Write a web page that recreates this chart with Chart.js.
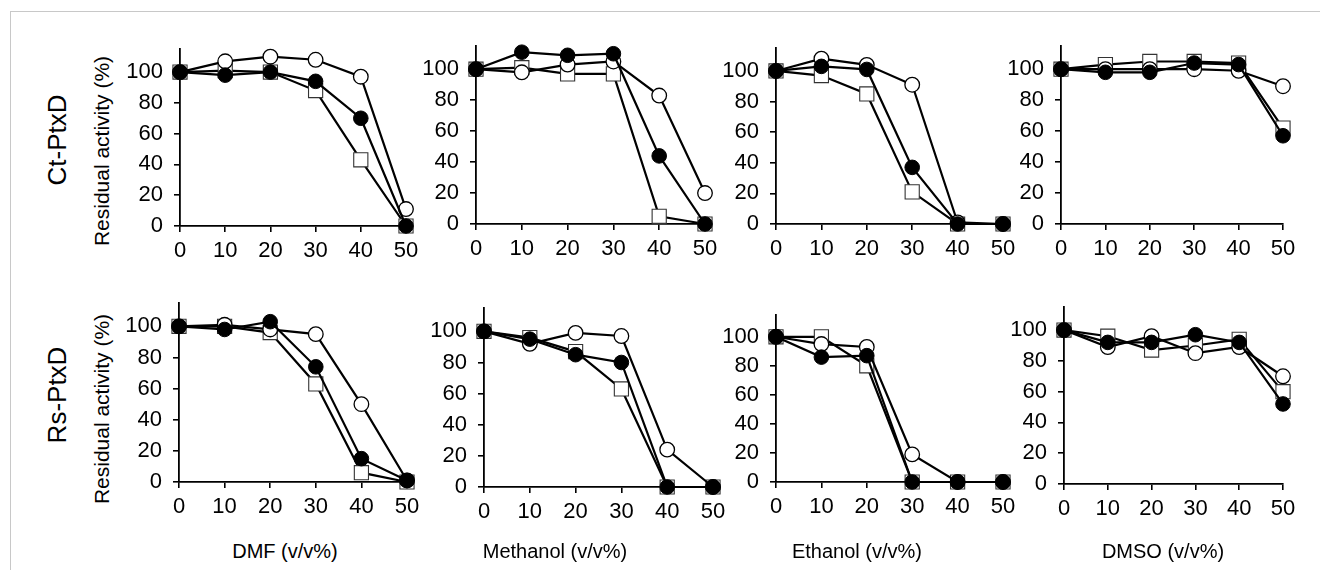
<!DOCTYPE html>
<html><head><meta charset="utf-8">
<script src="https://cdn.jsdelivr.net/npm/chart.js@4.4.0/dist/chart.umd.min.js"></script>
<style>
body{margin:0;background:#fff;width:1320px;height:570px;overflow:hidden;position:relative;font-family:"Liberation Sans",Arial,sans-serif;}
#frame{position:absolute;left:10px;top:11px;width:1400px;height:700px;border-left:1px solid #c8c8c8;border-top:1px solid #c8c8c8;}
canvas{position:absolute;}
.lbl{position:absolute;white-space:nowrap;color:#000;line-height:1;}
.rot{transform:translate(-50%,-50%) rotate(-90deg);}
.ctr{transform:translate(-50%,-50%);}
</style></head><body>
<div id="frame"></div>
<div id="root"></div>
<script>
// ---- data ----
const xTicks = [0, 10, 20, 30, 40, 50];
const yTicks = [0, 20, 40, 60, 80, 100];
const solvents = ['DMF (v/v%)', 'Methanol (v/v%)', 'Ethanol (v/v%)', 'DMSO (v/v%)'];
const enzymes = ['Ct-PtxD', 'Rs-PtxD'];
const yAxisTitle = 'Residual activity (%)';

// Ct-PtxD
const ctDmfFilled  = [100, 98, 100, 94, 70, 0];
const ctDmfOpen    = [100, 107, 110, 108, 97, 11];
const ctDmfSquare  = [100, 101, 100, 88, 43, 0];
const ctMeohFilled = [100, 111, 109, 110, 44, 0];
const ctMeohOpen   = [100, 98, 103, 105, 83, 20];
const ctMeohSquare = [100, 101, 97, 97, 5, 0];
const ctEtohFilled = [100, 103, 101, 37, 0, 0];
const ctEtohOpen   = [100, 108, 104, 91, 1, 0];
const ctEtohSquare = [100, 97, 85, 21, 0, 0];
const ctDmsoFilled = [100, 98, 98, 104, 103, 57];
const ctDmsoOpen   = [100, 100, 100, 100, 99, 89];
const ctDmsoSquare = [100, 103, 105, 105, 104, 62];
// Rs-PtxD
const rsDmfFilled  = [100, 98, 103, 74, 15, 1];
const rsDmfOpen    = [100, 101, 98, 95, 50, 1];
const rsDmfSquare  = [100, 100, 96, 63, 6, 0];
const rsMeohFilled = [100, 95, 85, 80, 0, 0];
const rsMeohOpen   = [100, 92, 99, 97, 24, 0];
const rsMeohSquare = [100, 96, 87, 63, 0, 0];
const rsEtohFilled = [100, 86, 87, 0, 0, 0];
const rsEtohOpen   = [100, 95, 93, 19, 0, 0];
const rsEtohSquare = [100, 100, 80, 0, 0, 0];
const rsDmsoFilled = [100, 92, 92, 97, 92, 52];
const rsDmsoOpen   = [100, 89, 96, 85, 89, 70];
const rsDmsoSquare = [100, 96, 87, 90, 94, 60];

// ---- layout ----
const FONT = '"Liberation Sans", Arial, sans-serif';
const YMAX = 115, YW = 64, XH = 44, PT = 30, PR = 24;
const panels = [
  {ax:180, x50:406, y0:226, y100:72,  sets:[ctDmfFilled, ctDmfOpen, ctDmfSquare]},
  {ax:476, x50:705, y0:224, y100:69,  sets:[ctMeohFilled, ctMeohOpen, ctMeohSquare]},
  {ax:776, x50:1003, y0:224, y100:71, sets:[ctEtohFilled, ctEtohOpen, ctEtohSquare]},
  {ax:1061, x50:1283, y0:224, y100:69, sets:[ctDmsoFilled, ctDmsoOpen, ctDmsoSquare]},
  {ax:179, x50:407, y0:482, y100:326, sets:[rsDmfFilled, rsDmfOpen, rsDmfSquare]},
  {ax:484, x50:713, y0:487, y100:331, sets:[rsMeohFilled, rsMeohOpen, rsMeohSquare]},
  {ax:776, x50:1003, y0:482, y100:337, sets:[rsEtohFilled, rsEtohOpen, rsEtohSquare]},
  {ax:1064, x50:1283, y0:484, y100:330, sets:[rsDmsoFilled, rsDmsoOpen, rsDmsoSquare]}
];
const styles = [
  {pointStyle:'circle', pointRadius:7.3, pointBackgroundColor:'#000', pointBorderColor:'#000', pointBorderWidth:1},
  {pointStyle:'circle', pointRadius:7.3, pointBackgroundColor:'#fff', pointBorderColor:'#000', pointBorderWidth:1.3},
  {pointStyle:'rect', pointRadius:10, pointBackgroundColor:'#fff', pointBorderColor:'#333', pointBorderWidth:1.1}
];

const root = document.getElementById('root');
panels.forEach((p) => {
  const k = (p.y0 - p.y100) / 100;
  const plotTop = p.y0 - YMAX * k;
  const cv = document.createElement('canvas');
  const w = Math.round(p.x50 - p.ax + YW + PR);
  const h = Math.round(p.y0 - plotTop + PT + XH);
  cv.width = w; cv.height = h;
  cv.style.left = (p.ax - YW) + 'px';
  cv.style.top = Math.round(plotTop - PT) + 'px';
  cv.style.width = w + 'px'; cv.style.height = h + 'px';
  root.appendChild(cv);
  const axisCommon = {
    grid:{display:true, drawOnChartArea:false, drawTicks:true, tickLength:6, color:'#000', lineWidth:1.6},
    border:{display:true, color:'#000', width:1.8},
    ticks:{color:'#000', font:{size:22, family:FONT}, autoSkip:false, maxRotation:0}
  };
  new Chart(cv, {
    type:'line',
    data:{datasets: p.sets.map((arr, i) => Object.assign({
      data: xTicks.map((x, j) => ({x:x, y:arr[j]})),
      borderColor:'#000', borderWidth:2.2, tension:0, fill:false, clip:false
    }, styles[i]))},
    options:{
      responsive:false, animation:false, events:[], devicePixelRatio:1,
      layout:{padding:{top:PT, right:PR, left:0, bottom:0}},
      plugins:{legend:{display:false}, tooltip:{enabled:false}},
      scales:{
        x:Object.assign({}, axisCommon, {type:'linear', min:0, max:50,
          afterBuildTicks:(s)=>{s.ticks = xTicks.map(v=>({value:v}));},
          afterFit:(s)=>{s.height = XH;},
          ticks:Object.assign({}, axisCommon.ticks, {padding:6})}),
        y:Object.assign({}, axisCommon, {type:'linear', min:0, max:YMAX,
          afterBuildTicks:(s)=>{s.ticks = yTicks.map(v=>({value:v}));},
          afterFit:(s)=>{s.width = YW;},
          ticks:Object.assign({}, axisCommon.ticks, {padding:11})})
      }
    }
  });
});

function addLabel(text, cx, cy, size, rotated) {
  const d = document.createElement('div');
  d.className = 'lbl ' + (rotated ? 'rot' : 'ctr');
  d.textContent = text;
  d.style.left = cx + 'px'; d.style.top = cy + 'px';
  d.style.fontSize = size + 'px';
  root.appendChild(d);
}
addLabel(enzymes[0], 57, 140, 26, true);
addLabel(enzymes[1], 57, 395, 26, true);
addLabel(yAxisTitle, 101, 151, 21, true);
addLabel(yAxisTitle, 101, 409, 21, true);
[285, 555, 857, 1163].forEach((cx, i) => addLabel(solvents[i], cx, 551, 20, false));
</script>
</body></html>
